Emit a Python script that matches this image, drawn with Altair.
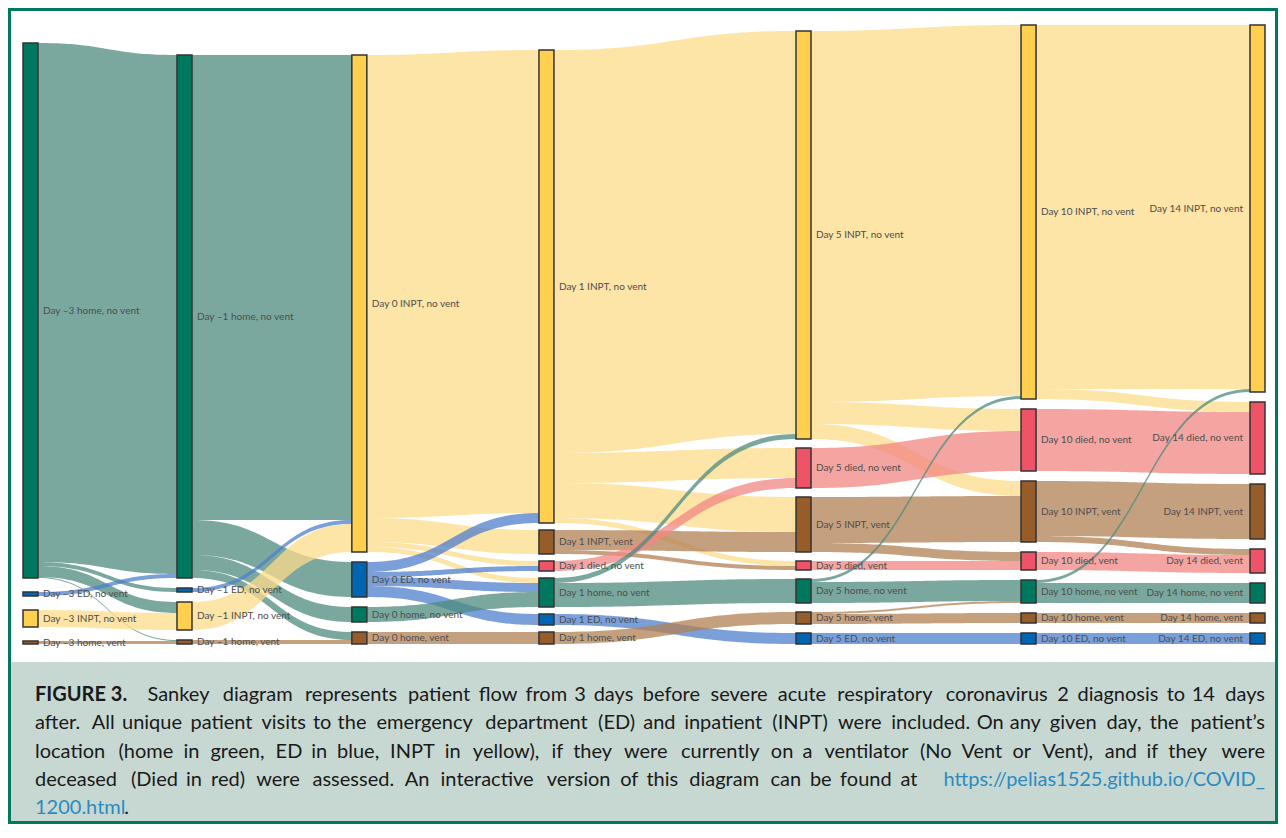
import numpy as np
import pandas as pd
import altair as alt

# ---------------- data (estimated from the figure, relative patient counts) ----------------
node_keys = ["-3H", "-3E", "-3I", "-3V",
             "-1H", "-1E", "-1I", "-1V",
             "0I", "0E", "0H", "0V",
             "1I", "1IV", "1D", "1H", "1E", "1HV",
             "5I", "5D", "5IV", "5DV", "5H", "5HV", "5E",
             "10I", "10D", "10IV", "10DV", "10H", "10HV", "10E",
             "14I", "14D", "14IV", "14DV", "14H", "14HV", "14E"]
node_labels = ["Day –3 home, no vent", "Day –3 ED, no vent", "Day –3 INPT, no vent", "Day –3 home, vent",
               "Day –1 home, no vent", "Day –1 ED, no vent", "Day –1 INPT, no vent", "Day –1 home, vent",
               "Day 0 INPT, no vent", "Day 0 ED, no vent", "Day 0 home, no vent", "Day 0 home, vent",
               "Day 1 INPT, no vent", "Day 1 INPT, vent", "Day 1 died, no vent", "Day 1 home, no vent",
               "Day 1 ED, no vent", "Day 1 home, vent",
               "Day 5 INPT, no vent", "Day 5 died, no vent", "Day 5 INPT, vent", "Day 5 died, vent",
               "Day 5 home, no vent", "Day 5 home, vent", "Day 5 ED, no vent",
               "Day 10 INPT, no vent", "Day 10 died, no vent", "Day 10 INPT, vent", "Day 10 died, vent",
               "Day 10 home, no vent", "Day 10 home, vent", "Day 10 ED, no vent",
               "Day 14 INPT, no vent", "Day 14 died,  no vent", "Day 14 INPT, vent", "Day 14 died, vent",
               "Day 14 home, no vent", "Day 14 home, vent", "Day 14 ED,  no vent"]
node_column = [0] * 4 + [1] * 4 + [2] * 4 + [3] * 6 + [4] * 7 + [5] * 7 + [6] * 7
node_state = (["home", "ed", "inpt", "vent"] * 2 + ["inpt", "ed", "home", "vent"]
              + ["inpt", "vent", "died", "home", "ed", "vent"]
              + ["inpt", "died", "vent", "died", "home", "vent", "ed"] * 3)

link_source = ["-3H", "-3H", "-3H", "-3H", "-3E", "-3I", "-3V",
               "-1H", "-1H", "-1H", "-1H", "-1E", "-1I", "-1V",
               "0I", "0I", "0I", "0I", "0E", "0E", "0E", "0E", "0H", "0V",
               "1I", "1I", "1I", "1I", "1IV", "1IV", "1D", "1H", "1H", "1E", "1HV",
               "5I", "5I", "5I", "5D", "5IV", "5IV", "5DV", "5H", "5H", "5HV", "5HV", "5E",
               "10I", "10I", "10D", "10IV", "10IV", "10DV", "10H", "10H", "10HV", "10E"]
link_target = ["-1H", "-1E", "-1I", "-1V", "-1H", "-1I", "-1V",
               "0I", "0E", "0H", "0V", "0I", "0I", "0V",
               "1I", "1IV", "1D", "1H", "1I", "1D", "1H", "1E", "1H", "1HV",
               "5I", "5D", "5IV", "5DV", "5IV", "5DV", "5D", "5I", "5H", "5E", "5HV",
               "10I", "10D", "10IV", "10D", "10IV", "10DV", "10DV", "10I", "10H", "10HV", "10H", "10E",
               "14I", "14D", "14D", "14IV", "14DV", "14DV", "14I", "14H", "14HV", "14E"]
link_value = [519, 4, 11, 1, 4, 17, 3,
              465, 35, 15, 8, 4, 28, 4,
              463, 24, 5, 5, 10, 5, 9, 11, 15, 12,
              403, 30, 35, 5, 20, 4, 10, 5, 24, 11, 12,
              371, 22, 15, 40, 46, 9, 9, 3, 21, 10, 2, 11,
              364, 10, 62, 55, 6, 18, 3, 20, 10, 11]

caption_label = "FIGURE 3."
caption_lines = [
    "Sankey diagram represents patient flow from 3 days before severe acute respiratory coronavirus 2 diagnosis to 14 days",
    "after. All unique patient visits to the emergency department (ED) and inpatient (INPT) were included. On any given day, the patient’s",
    "location (home in green, ED in blue, INPT in yellow), if they were currently on a ventilator (No Vent or Vent), and if they were",
    "deceased (Died in red) were assessed. An interactive version of this diagram can be found at",
]
caption_url = ["https://pelias1525.github.io/COVID_", "1200.html"]

# ---------------- styles / layout ----------------
NODE_COLOR = {"home": "#00775f", "ed": "#0066b3", "inpt": "#ffcf4f", "vent": "#965c29", "died": "#ef5367"}
LINK_COLOR = {"home": "#4e8b7f", "ed": "#4e7fcc", "inpt": "#fcdb8a", "vent": "#b28054", "died": "#f28782"}
TEXT_DARK, TEXT_URL = "#1a1a1a", "#2b8bbf"
LINK_OPACITY = 0.75
W, H = 1270, 816
SANKEY_LEFT, SANKEY_RIGHT = 15, 1257
NODE_W = 15
COL_FRAC = [0, 0.1255, 0.268, 0.4205, 0.630, 0.8134, 1.0]
COL_PAD = [14, 10, 10, 7, 9, 10, 10]
SANKEY_BOTTOM = 636
KY = 1.0
FONT = "Lato"

# ---------------- sankey layout ----------------
nodes = pd.DataFrame(dict(key=node_keys, label=node_labels, col=node_column, state=node_state))
links = pd.DataFrame(dict(source=link_source, target=link_target, value=link_value))
inflow = links.groupby("target")["value"].sum()
outflow = links.groupby("source")["value"].sum()
nodes["value"] = [max(inflow.get(k, 0), outflow.get(k, 0)) for k in nodes.key]
nodes["x0"] = [SANKEY_LEFT + COL_FRAC[c] * (SANKEY_RIGHT - NODE_W - SANKEY_LEFT) for c in nodes.col]
nodes["x1"] = nodes.x0 + NODE_W
y0s = {}
for c in range(len(COL_FRAC)):
    sub = nodes[nodes.col == c]
    total = sub.value.sum() * KY + COL_PAD[c] * (len(sub) - 1)
    y = SANKEY_BOTTOM - total
    for i, r in sub.iterrows():
        y0s[r.key] = y
        y += r.value * KY + COL_PAD[c]
nodes["y0"] = nodes.key.map(y0s)
nodes["y1"] = nodes.y0 + nodes.value * KY
nodes["yc"] = (nodes.y0 + nodes.y1) / 2
nodes["fill"] = nodes.state.map(NODE_COLOR)
nd = nodes.set_index("key")

links["sy"] = 0.0
links["ty"] = 0.0
for k in node_keys:
    outs = links[links.source == k].copy()
    outs["o"] = outs.target.map(nd.y0)
    y = nd.loc[k, "y0"]
    for i in outs.sort_values("o").index:
        links.loc[i, "sy"] = y
        y += links.loc[i, "value"] * KY
    ins = links[links.target == k].copy()
    ins["o"] = ins.source.map(nd.y0)
    y = nd.loc[k, "y0"]
    for i in ins.sort_values("o").index:
        links.loc[i, "ty"] = y
        y += links.loc[i, "value"] * KY

T = np.linspace(0, 1, 49)
fx = 1.5 * T - 1.5 * T ** 2 + T ** 3
fy = 3 * T ** 2 - 2 * T ** 3
rows = []
for i, l in links.iterrows():
    xa, xb = nd.loc[l.source, "x1"], nd.loc[l.target, "x0"]
    col = LINK_COLOR[nd.loc[l.source, "state"]]
    for a, b in zip(fx, fy):
        top = l.sy + (l.ty - l.sy) * b
        rows.append(dict(link=i, x=xa + (xb - xa) * a, ytop=top, ybot=top + l.value * KY, color=col))
paths = pd.DataFrame(rows)

# ---------------- caption layout (approximate justification, word by word) ----------------
CAP_SIZE = 20
CAP_X0, CAP_X1 = 27, 1257
CAP_Y0, CAP_DY = 687, 28.3
_cw = {}
for ch in "il.,:;'’|!ij": _cw[ch] = 0.24
for ch in "ft": _cw[ch] = 0.34
_cw["r"] = 0.37
_cw["s"] = 0.43
_cw["z"] = 0.45
_cw["c"] = 0.46
for ch in "mw": _cw[ch] = 0.80
for ch in "()": _cw[ch] = 0.30
_cw["/"] = 0.39
_cw["_"] = 0.48
_cw[" "] = 0.20
_cw["I"] = 0.28
for ch in "0123456789": _cw[ch] = 0.58


def em_width(s):
    return sum(_cw.get(ch, 0.53 if (ch.islower() or not ch.isalpha()) else 0.64) for ch in s)


CAL = 1091.0 / (em_width(caption_lines[1]) * 18.0)


def px_width(s, bold=False):
    return em_width(s) * CAP_SIZE * CAL * (1.05 if bold else 1.0)


cap_rows = []
line_segments = [
    [(caption_label, TEXT_DARK, "bold", False), (caption_lines[0], TEXT_DARK, "normal", True)],
    [(caption_lines[1], TEXT_DARK, "normal", True)],
    [(caption_lines[2], TEXT_DARK, "normal", True)],
    [(caption_lines[3], TEXT_DARK, "normal", True), (caption_url[0], TEXT_URL, "normal", True)],
]
space_w = px_width(" ")
for li, segs in enumerate(line_segments):
    words = []
    for text, colr, wt, split in segs:
        for wd in (text.split(" ") if split else [text]):
            words.append((wd, colr, wt, px_width(wd, wt == "bold")))
    natural = sum(w[3] for w in words) + space_w * (len(words) - 1)
    extra = (CAP_X1 - CAP_X0 - natural) / (len(words) - 1)
    x = CAP_X0
    n = len(words)
    for j, (wd, colr, wt, w) in enumerate(words):
        if j == 0:
            ax, al = x, "left"
        elif j == n - 1:
            ax, al = CAP_X1, "right"
        else:
            ax, al = x + w / 2, "center"
        cap_rows.append(dict(text=wd, cx=ax, cy=CAP_Y0 + li * CAP_DY, color=colr, weight=wt, al=al))
        x += w + space_w + extra
# last line (not justified)
w_url = px_width(caption_url[1]) * 0.92
cap_rows.append(dict(text=caption_url[1], cx=CAP_X0, cy=CAP_Y0 + 4 * CAP_DY, color=TEXT_URL, weight="normal", al="left"))
cap_rows.append(dict(text=".", cx=CAP_X0 + w_url, cy=CAP_Y0 + 4 * CAP_DY, color=TEXT_DARK, weight="normal", al="left"))
caption = pd.DataFrame(cap_rows)

# ---------------- chart ----------------
xs = alt.Scale(domain=[0, W], nice=False, zero=False)
ys = alt.Scale(domain=[0, H], nice=False, zero=False, reverse=True)
one = pd.DataFrame({"a": [0]})

caption_bg = alt.Chart(one).mark_rect(color="#c7d8d3").encode(
    x=alt.value(1.5), x2=alt.value(W - 1.5), y=alt.value(654), y2=alt.value(H - 1.5))

link_layer = alt.Chart(paths).mark_area(opacity=LINK_OPACITY, interpolate="linear").encode(
    x=alt.X("x:Q", scale=xs, axis=None),
    y=alt.Y("ytop:Q", scale=ys, axis=None, stack=None),
    y2="ybot:Q",
    detail="link:N",
    color=alt.Color("color:N", scale=None),
)

node_layer = alt.Chart(nodes).mark_rect(stroke="#333333", strokeWidth=1.5).encode(
    x=alt.X("x0:Q", scale=xs, axis=None), x2="x1:Q",
    y=alt.Y("y0:Q", scale=ys, axis=None), y2="y1:Q",
    color=alt.Color("fill:N", scale=None),
)

lab_left = alt.Chart(nodes).transform_filter("datum.col < 6").mark_text(
    align="left", baseline="middle", dx=5, font=FONT, fontSize=10, color="#4d4d4d").encode(
    x=alt.X("x1:Q", scale=xs, axis=None), y=alt.Y("yc:Q", scale=ys, axis=None), text="label:N")
lab_right = alt.Chart(nodes).transform_filter("datum.col == 6").mark_text(
    align="right", baseline="middle", dx=-7, font=FONT, fontSize=10, color="#4d4d4d").encode(
    x=alt.X("x0:Q", scale=xs, axis=None), y=alt.Y("yc:Q", scale=ys, axis=None), text="label:N")

cap_layers = []
for wt in ["normal", "bold"]:
    for al in ["left", "center", "right"]:
        sub = caption[(caption.weight == wt) & (caption.al == al)]
        if len(sub) == 0:
            continue
        cap_layers.append(alt.Chart(sub).mark_text(
            align=al, baseline="middle", font=FONT, fontSize=CAP_SIZE, fontWeight=wt).encode(
            x=alt.X("cx:Q", scale=xs, axis=None), y=alt.Y("cy:Q", scale=ys, axis=None),
            text="text:N", color=alt.Color("color:N", scale=None)))

border = alt.Chart(one).mark_rect(fillOpacity=0, stroke="#00785f", strokeWidth=3).encode(
    x=alt.value(1.5), x2=alt.value(W - 1.5), y=alt.value(1.5), y2=alt.value(H - 1.5))

chart = alt.layer(caption_bg, link_layer, node_layer, lab_left, lab_right, *cap_layers, border).properties(
    width=W, height=H, padding=0, autosize=alt.AutoSizeParams(type="none"), background="white"
).configure_view(stroke=None)

chart.save("out.html", embed_options={"renderer": "svg", "actions": False})
